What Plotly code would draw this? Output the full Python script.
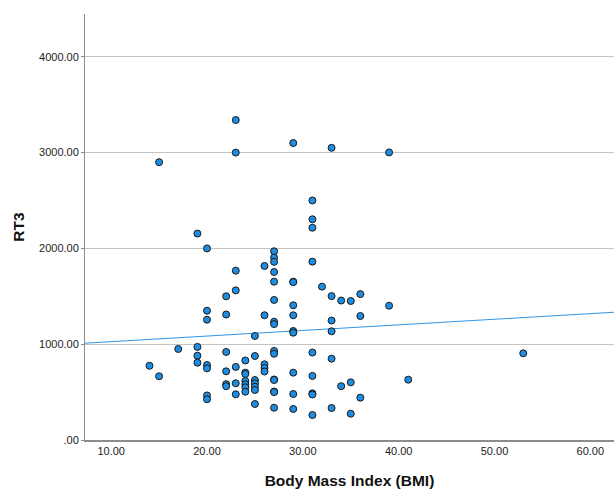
import plotly.graph_objects as go

# BMI values and RT3 values
bmi = [14,
       15, 15,
       17,
       19, 19, 19, 19,
       20, 20, 20, 20, 20, 20, 20,
       22, 22, 22, 22, 22, 22,
       23, 23, 23, 23, 23, 23, 23,
       24, 24, 24, 24, 24, 24, 24,
       25, 25, 25, 25, 25, 25, 25,
       26, 26, 26, 26, 26,
       27, 27, 27, 27, 27, 27, 27, 27, 27, 27, 27, 27, 27, 27, 27,
       29, 29, 29, 29, 29, 29, 29, 29, 29, 29,
       31, 31, 31, 31, 31, 31, 31, 31, 31,
       32,
       33, 33, 33, 33, 33, 33,
       34, 34,
       35, 35, 35,
       36, 36, 36,
       39, 39,
       41,
       53]
rt3 = [775,
       2900, 665,
       950,
       2155, 972, 880, 807,
       2000, 1350, 1256, 783, 748, 465, 425,
       1500, 1310, 919, 717, 583, 562,
       3340, 3000, 1768, 1562, 763, 592, 477,
       830, 703, 689, 616, 581, 550, 504,
       1086, 877, 626, 592, 556, 522, 376,
       1817, 1302, 790, 752, 715,
       1970, 1905, 1860, 1754, 1653, 1462, 1235, 1210, 930, 900, 632, 626, 506, 500, 337,
       3100, 1653, 1648, 1406, 1302, 1138, 1120, 703, 480, 324,
       2500, 2304, 2216, 1862, 913, 669, 487, 475, 261,
       1601,
       3050, 1502, 1247, 1135, 849, 334,
       1456, 562,
       1451, 602, 275,
       1523, 1294, 442,
       3002, 1402,
       630,
       905]

# Linear fit line
fit_intercept = 968.0
fit_slope = 5.85
x_range = [7.27, 62.47]
y_range = [0, 4447]
fit_x = x_range
fit_y = [fit_intercept + fit_slope * v for v in fit_x]

y_tickvals = [0, 1000, 2000, 3000, 4000]
y_ticktext = [".00", "1000.00", "2000.00", "3000.00", "4000.00"]
x_tickvals = [10, 20, 30, 40, 50, 60]
x_ticktext = ["10.00", "20.00", "30.00", "40.00", "50.00", "60.00"]

fig = go.Figure()
fig.add_trace(go.Scatter(
    x=fit_x, y=fit_y, mode="lines",
    line=dict(color="#2f96e8", width=1),
    hoverinfo="skip", showlegend=False))
fig.add_trace(go.Scatter(
    x=bmi, y=rt3, mode="markers",
    marker=dict(size=7, color="#1e8ce0", line=dict(color="#1a1a1a", width=1)),
    showlegend=False))

font_family = "Liberation Sans, Arial, sans-serif"
fig.update_layout(
    width=614, height=491,
    margin=dict(l=85, r=0, t=14, b=51),
    paper_bgcolor="white", plot_bgcolor="white",
    font=dict(family=font_family, size=11, color="#222222"),
    xaxis=dict(
        range=x_range, tickvals=x_tickvals, ticktext=x_ticktext,
        showgrid=False, zeroline=False,
        showline=True, linecolor="#8c8c8c", linewidth=2,
        ticks="", tickfont=dict(size=11, color="#222222"),
        title=dict(text="<b>Body Mass Index (BMI)</b>",
                   font=dict(size=15.5, color="#111111"), standoff=19),
    ),
    yaxis=dict(
        range=y_range, tickvals=y_tickvals, ticktext=y_ticktext,
        showgrid=True, gridcolor="#c4c4c4", gridwidth=1.2, zeroline=False,
        showline=True, linecolor="#8c8c8c", linewidth=1,
        ticks="outside", ticklen=3, tickcolor="#8c8c8c",
        tickfont=dict(size=11, color="#222222"),
        title=dict(text="<b>RT3</b>", font=dict(size=15.5, color="#111111"), standoff=10),
    ),
)

fig.write_html("out.html")
